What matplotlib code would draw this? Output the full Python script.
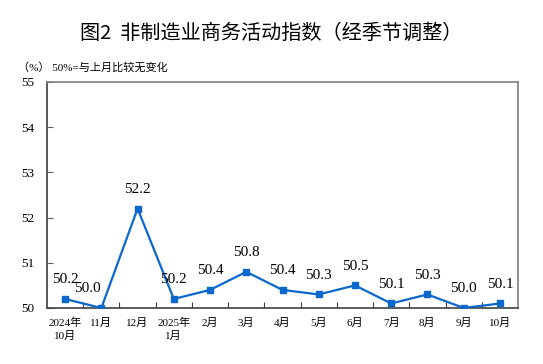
import matplotlib
matplotlib.use("Agg")
import matplotlib.pyplot as plt

months = ["2024年\n10月", "11月", "12月", "2025年\n1月", "2月", "3月", "4月", "5月",
          "6月", "7月", "8月", "9月", "10月"]
values = [50.2, 50.0, 52.2, 50.2, 50.4, 50.8, 50.4, 50.3, 50.5, 50.1, 50.3, 50.0, 50.1]
yticks = [50, 51, 52, 53, 54, 55]

serif = ["Liberation Serif", "Noto Sans CJK SC"]
W, H = 543, 364
fig = plt.figure(figsize=(W / 100, H / 100), dpi=100)
ax = fig.add_axes([47 / W, 1 - 308 / H, (518 - 47) / W, (308 - 82) / H])

x = [i + 0.5 for i in range(len(values))]
ax.plot(x, values, color="#0A67CC", lw=1.6, marker="s", ms=4.2, zorder=3)

ax.set_xlim(0, len(values))
ax.set_ylim(50, 55)
ax.set_yticks(yticks)
ax.set_yticklabels([str(v) for v in yticks], fontfamily=serif, fontsize=9.5)
ax.set_xticks(range(1, len(values)))
ax.set_xticklabels([])
ax.set_xticks(x, minor=True)
ax.set_xticklabels(months, minor=True, fontfamily=serif, fontsize=8, linespacing=1.4)
ax.tick_params(axis="x", which="minor", length=0, pad=7)
ax.tick_params(axis="x", which="major", direction="in", length=4, color="#404040")
ax.tick_params(axis="y", direction="in", length=4, color="#606060", pad=9)

for s in ["left", "bottom"]:
    ax.spines[s].set_color("#404040")
    ax.spines[s].set_linewidth(1.2)
for s in ["top", "right"]:
    ax.spines[s].set_color("#808080")
    ax.spines[s].set_linewidth(1.2)

offsets = {1: (-10, 0)}
for i, (xi, v) in enumerate(zip(x, values)):
    dx, dy = offsets.get(i, (0, 0))
    ax.annotate(f"{v:.1f}", (xi, v), xytext=(dx, 9 + dy), textcoords="offset points",
                ha="center", va="bottom", fontfamily=serif, fontsize=11)

fig.text(0.5, 1 - 33 / H, "图2  非制造业商务活动指数（经季节调整）", ha="center", va="center",
         fontfamily=["Noto Sans CJK SC", "DejaVu Sans"], fontsize=14.5)
fig.text(18 / W, 1 - 67 / H, "（%） 50%=与上月比较无变化", ha="left", va="center",
         fontfamily=serif, fontsize=8)

fig.savefig("out.png", dpi=100)
